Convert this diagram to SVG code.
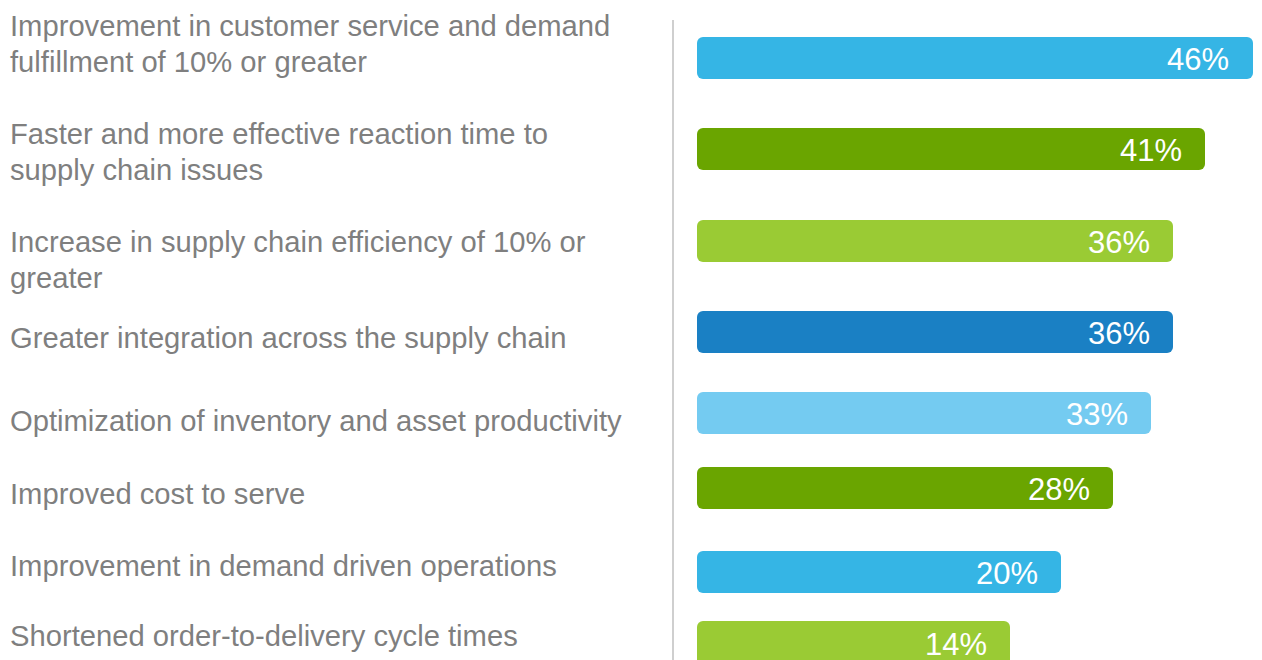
<svg xmlns="http://www.w3.org/2000/svg" width="1262" height="660" viewBox="0 0 1262 660">
<style>
.lbl{font-family:"Liberation Sans",Arial,sans-serif;font-size:29.2px;fill:#7f7f7f}
.pct{font-family:"Liberation Sans",Arial,sans-serif;font-size:31px;fill:#ffffff;text-anchor:end}
.axis{stroke:#bfbfbf;stroke-width:1.5}
</style>
<rect width="1262" height="660" fill="#ffffff"/>
<g id="axis"><line class="axis" x1="673" y1="20" x2="673" y2="660"/></g>
<g id="labels">
<text class="lbl" x="10" y="36">Improvement in customer service and demand</text>
<text class="lbl" x="10" y="72">fulfillment of 10% or greater</text>
<text class="lbl" x="10" y="144">Faster and more effective reaction time to</text>
<text class="lbl" x="10" y="180">supply chain issues</text>
<text class="lbl" x="10" y="252">Increase in supply chain efficiency of 10% or</text>
<text class="lbl" x="10" y="288">greater</text>
<text class="lbl" x="10" y="348">Greater integration across the supply chain</text>
<text class="lbl" x="10" y="431">Optimization of inventory and asset productivity</text>
<text class="lbl" x="10" y="504">Improved cost to serve</text>
<text class="lbl" x="10" y="576">Improvement in demand driven operations</text>
<text class="lbl" x="10" y="646">Shortened order-to-delivery cycle times</text>
</g>
<g id="bar1"><rect x="697" y="37" width="556" height="42" rx="6" fill="#35b5e5"/><text class="pct" x="1229" y="70">46%</text></g>
<g id="bar2"><rect x="697" y="128" width="508" height="42" rx="6" fill="#6aa500"/><text class="pct" x="1182" y="161">41%</text></g>
<g id="bar3"><rect x="697" y="220" width="476" height="42" rx="6" fill="#9acb34"/><text class="pct" x="1150" y="253">36%</text></g>
<g id="bar4"><rect x="697" y="311" width="476" height="42" rx="6" fill="#1a80c4"/><text class="pct" x="1150" y="344">36%</text></g>
<g id="bar5"><rect x="697" y="392" width="454" height="42" rx="6" fill="#74cbf1"/><text class="pct" x="1128" y="425">33%</text></g>
<g id="bar6"><rect x="697" y="467" width="416" height="42" rx="6" fill="#6aa500"/><text class="pct" x="1090" y="500">28%</text></g>
<g id="bar7"><rect x="697" y="551" width="364" height="42" rx="6" fill="#35b5e5"/><text class="pct" x="1038" y="584">20%</text></g>
<g id="bar8"><rect x="697" y="621" width="313" height="48" rx="6" fill="#9acb34"/><text class="pct" x="987" y="655">14%</text></g>
</svg>
